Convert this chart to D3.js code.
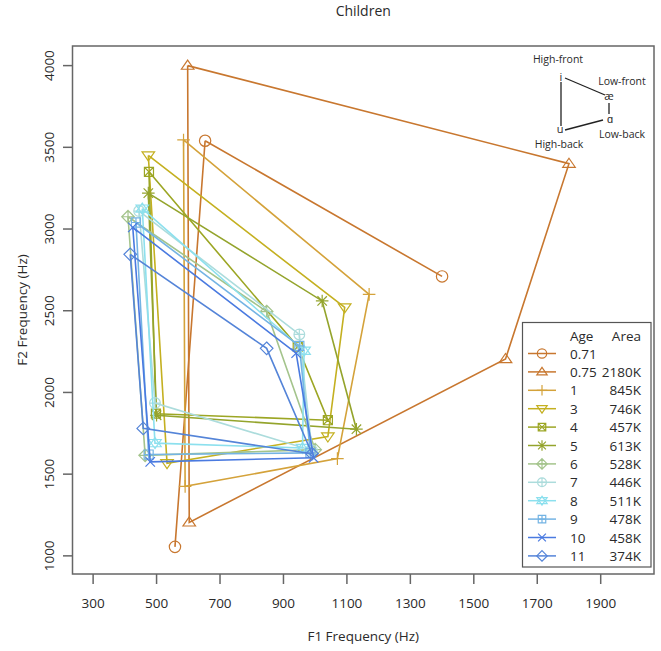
<!DOCTYPE html>
<html><head><meta charset="utf-8">
<script src="https://cdn.jsdelivr.net/npm/d3@7"></script>
<style>body{margin:0;background:#fff}text{font-family:"Open Sans",sans-serif}</style>
</head><body><svg id="c" width="661" height="651"></svg>
<script>
const ages  = ["0.71","0.75","1","3","4","5","6","7","8","9","10","11"];
const areas = ["","2180K","845K","746K","457K","613K","528K","446K","511K","478K","458K","374K"];
// vowel /i/ (high-front)
const iF1  = [653, 598, 585, 474, 476, 474, 410, 445, 455, 435, 425, 417];
const iF2  = [3540,4000,3545,3450,3350,3220,3075,3110,3125,3040,3010,2845];
// vowel /æ/ (low-front)
const aeF1 = [1400,1800,1170,1093, 945,1022, 847, 950, 965, 950, 940, 847];
const aeF2 = [2710,3400,2600,2520,2280,2560,2495,2355,2255,2285,2240,2270];
// vowel /ɑ/ (low-back)
const ahF1 = [null,1600,1070,1040,1040,1130,1000, 990, 960, 985, 995, 990];
const ahF2 = [null,2205,1595,1730,1830,1775,1650,1645,1660,1630,1600,1625];
// vowel /u/ (high-back)
const uF1  = [558, 603, 590, 533, 498, 500, 464, 495, 495, 475, 480, 458];
const uF2  = [1055,1205,1425,1567,1870,1860,1615,1935,1690,1620,1575,1780];
const xTicks = [300,500,700,900,1100,1300,1500,1700,1900];
const yTicks = [1000,1500,2000,2500,3000,3500,4000];
const colors = ["#c8772f","#c8772f","#d4a23a","#c4b020","#9ca624","#94a42c","#a4c48c","#acdcdc","#8ce0ee","#74b4e4","#4a7ae0","#5484d8"];
const shapes = ["circle","triangle","plus","tridown","squarex","asterisk","diamondplus","circleplus","star6","squareplus","x","diamond"];

const svg = d3.select("#c");
const L=72.5,R=654,T=46,B=574;
const x = d3.scaleLinear().domain([235,2068]).range([L,R]);
const y = d3.scaleLinear().domain([889,4120]).range([B,T]);
const ink="#2a2a2a";

function marker(t,s){
  const p=d3.path();
  const tri=(dir)=>{const h=s*1.15;p.moveTo(0,-dir*h*0.75);p.lineTo(h*0.866,dir*h*0.5);p.lineTo(-h*0.866,dir*h*0.5);p.closePath();};
  switch(t){
    case "circle": p.arc(0,0,s*0.9,0,2*Math.PI); break;
    case "triangle": tri(1); break;
    case "tridown": tri(-1); break;
    case "plus": p.moveTo(-s,0);p.lineTo(s,0);p.moveTo(0,-s);p.lineTo(0,s); break;
    case "x": p.moveTo(-s*.75,-s*.75);p.lineTo(s*.75,s*.75);p.moveTo(-s*.75,s*.75);p.lineTo(s*.75,-s*.75); break;
    case "diamond": p.moveTo(0,-s);p.lineTo(s,0);p.lineTo(0,s);p.lineTo(-s,0);p.closePath(); break;
    case "squarex": {const a=s*.72;p.rect(-a,-a,2*a,2*a);p.moveTo(-a,-a);p.lineTo(a,a);p.moveTo(-a,a);p.lineTo(a,-a);} break;
    case "squareplus": {const a=s*.72;p.rect(-a,-a,2*a,2*a);p.moveTo(-a,0);p.lineTo(a,0);p.moveTo(0,-a);p.lineTo(0,a);} break;
    case "asterisk": {const a=s*.75;p.moveTo(-s,0);p.lineTo(s,0);p.moveTo(0,-s);p.lineTo(0,s);p.moveTo(-a,-a);p.lineTo(a,a);p.moveTo(-a,a);p.lineTo(a,-a);} break;
    case "diamondplus": p.moveTo(0,-s);p.lineTo(s,0);p.lineTo(0,s);p.lineTo(-s,0);p.closePath();p.moveTo(-s,0);p.lineTo(s,0);p.moveTo(0,-s);p.lineTo(0,s); break;
    case "circleplus": p.arc(0,0,s*.85,0,2*Math.PI);p.moveTo(-s*.85,0);p.lineTo(s*.85,0);p.moveTo(0,-s*.85);p.lineTo(0,s*.85); break;
    case "star6": tri(1); tri(-1); break;
  }
  return p.toString();
}

// frame
svg.append("rect").attr("x",L).attr("y",T).attr("width",R-L).attr("height",B-T).attr("fill","none").attr("stroke","#666").attr("stroke-width",1.5);

// axes
const xa=svg.append("g");
xTicks.forEach(v=>{
  xa.append("line").attr("x1",x(v)).attr("x2",x(v)).attr("y1",B).attr("y2",B+10).attr("stroke","#666").attr("stroke-width",1.5);
  xa.append("text").attr("x",x(v)).attr("y",B+34).attr("text-anchor","middle").attr("font-size",13.5).attr("fill",ink).text(v);
});
const ya=svg.append("g");
yTicks.forEach(v=>{
  ya.append("line").attr("x1",L).attr("x2",L-9.5).attr("y1",y(v)).attr("y2",y(v)).attr("stroke","#666").attr("stroke-width",1.5);
  ya.append("text").attr("transform",`translate(54,${y(v)}) rotate(-90)`).attr("text-anchor","middle").attr("font-size",13.5).attr("fill",ink).text(v);
});
svg.append("text").attr("x",(L+R)/2).attr("y",641).attr("text-anchor","middle").attr("font-size",13.5).attr("fill",ink).text("F1 Frequency (Hz)");
svg.append("text").attr("transform",`translate(27,${(T+B)/2}) rotate(-90)`).attr("text-anchor","middle").attr("font-size",13.5).attr("fill",ink).text("F2 Frequency (Hz)");
svg.append("text").attr("x",(L+R)/2).attr("y",16).attr("text-anchor","middle").attr("font-size",14).attr("fill",ink).text("Children");

// series
const line=d3.line().defined(d=>d[0]!=null&&d[1]!=null).x(d=>x(d[0])).y(d=>y(d[1]));
ages.forEach((a,k)=>{
  const pts=[[iF1[k],iF2[k]],[aeF1[k],aeF2[k]],[ahF1[k],ahF2[k]],[uF1[k],uF2[k]],[iF1[k],iF2[k]]];
  const g=svg.append("g");
  g.append("path").attr("d",line(pts)).attr("fill","none").attr("stroke",colors[k]).attr("stroke-width",1.6);
  pts.slice(0,4).filter(d=>d[0]!=null).forEach(d=>{
    g.append("path").attr("transform",`translate(${x(d[0])},${y(d[1])})`).attr("d",marker(shapes[k],6.3))
     .attr("fill","none").attr("stroke",colors[k]).attr("stroke-width",1.2);
  });
});

// legend
const lg=svg.append("g");
lg.append("rect").attr("x",522.5).attr("y",322.5).attr("width",128.5).attr("height",244.5).attr("fill","#fff").attr("stroke","#555").attr("stroke-width",1.2);
lg.append("text").attr("x",570).attr("y",341).attr("font-size",13.5).attr("fill",ink).text("Age");
lg.append("text").attr("x",641).attr("y",341).attr("text-anchor","end").attr("font-size",13.5).attr("fill",ink).text("Area");
ages.forEach((a,k)=>{
  const cy=353.5+k*18.4;
  lg.append("line").attr("x1",528).attr("x2",556).attr("y1",cy).attr("y2",cy).attr("stroke",colors[k]).attr("stroke-width",1.5);
  lg.append("path").attr("transform",`translate(542,${cy})`).attr("d",marker(shapes[k],5.2)).attr("fill","none").attr("stroke",colors[k]).attr("stroke-width",1.2);
  lg.append("text").attr("x",570).attr("y",cy+5).attr("font-size",13.5).attr("fill",ink).text(a);
  lg.append("text").attr("x",641).attr("y",cy+5).attr("text-anchor","end").attr("font-size",13.5).attr("fill",ink).text(areas[k]);
});

// inset vowel diagram
const ins=svg.append("g").attr("fill",ink).attr("font-size",10.5);
ins.append("text").attr("x",558).attr("y",63).attr("text-anchor","middle").text("High-front");
ins.append("text").attr("x",622).attr("y",85).attr("text-anchor","middle").text("Low-front");
ins.append("text").attr("x",622).attr("y",138).attr("text-anchor","middle").text("Low-back");
ins.append("text").attr("x",559).attr("y",148).attr("text-anchor","middle").text("High-back");
ins.append("text").attr("x",561).attr("y",81).attr("text-anchor","middle").attr("font-size",11).text("i");
ins.append("text").attr("x",609).attr("y",100).attr("text-anchor","middle").attr("font-size",11).text("æ");
ins.append("text").attr("x",610).attr("y",123).attr("text-anchor","middle").attr("font-size",11).text("ɑ");
ins.append("text").attr("x",560).attr("y",133).attr("text-anchor","middle").attr("font-size",11).text("u");
const il=[[565,78,605,95],[609,103,609,114],[603,120,565,130],[561,82,561,126]];
il.forEach(s=>ins.append("line").attr("x1",s[0]).attr("y1",s[1]).attr("x2",s[2]).attr("y2",s[3]).attr("stroke","#222").attr("stroke-width",1.3));
</script></body></html>
